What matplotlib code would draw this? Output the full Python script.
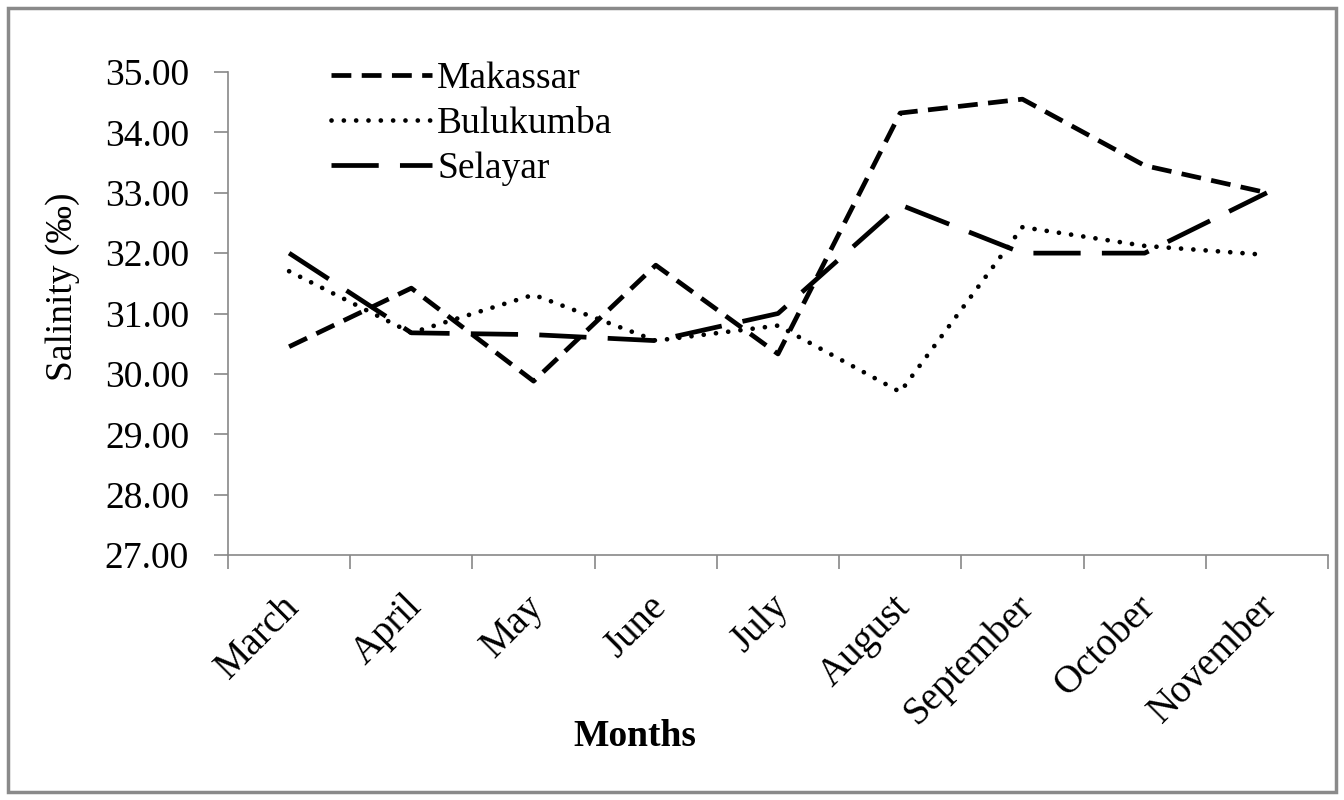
import matplotlib
matplotlib.use("Agg")
import matplotlib.pyplot as plt
from matplotlib.patches import Rectangle
from matplotlib.transforms import ScaledTranslation

months = ["March", "April", "May", "June", "July", "August", "September", "October", "November"]
makassar = [30.45, 31.42, 29.88, 31.80, 30.33, 34.32, 34.55, 33.45, 33.00]
bulukumba = [31.70, 30.68, 31.31, 30.55, 30.80, 29.70, 32.43, 32.12, 31.97]
selayar = [32.00, 30.68, 30.65, 30.55, 31.00, 32.80, 32.00, 32.00, 33.00]
yticks = [27, 28, 29, 30, 31, 32, 33, 34, 35]

plt.rcParams['font.family'] = ['Liberation Serif', 'DejaVu Serif']

fig = plt.figure(figsize=(13.44, 8.0), dpi=100)
ax = fig.add_axes([228/1344, 1-555/800, 1100/1344, 483/800])

x = list(range(len(months)))
lw = 3.4
l1, = ax.plot(x, makassar, color='black', lw=lw, dashes=(4.2, 2.2), dash_capstyle='butt', label='Makassar')
l2, = ax.plot(x, bulukumba, color='black', lw=lw, dashes=(0.01, 2.6), dash_capstyle='round', label='Bulukumba')
l3, = ax.plot(x, selayar, color='black', lw=lw, dashes=(10, 4.5), dash_capstyle='butt', label='Selayar')

ax.set_xlim(-0.5, len(months)-0.5)
ax.set_ylim(27, 35)
ax.set_yticks(yticks)
ax.set_yticklabels([f"{v:.2f}" for v in yticks], fontsize=27)
ax.set_xticks(x)
ax.set_xticklabels(months, fontsize=28, rotation=45, ha='right', rotation_mode='anchor')
ax.set_xticks([i - 0.5 for i in range(len(months)+1)], minor=True)
ax.tick_params(axis='x', which='major', length=0, pad=24)
ax.tick_params(axis='x', which='minor', length=10, color='#888888', width=1.2)
ax.tick_params(axis='y', length=10, color='#888888', width=1.2, pad=18)
off = ScaledTranslation(-6/72, 0, fig.dpi_scale_trans)
for lab in ax.get_xticklabels():
    lab.set_transform(lab.get_transform() + off)

for s in ['top', 'right']:
    ax.spines[s].set_visible(False)
for s in ['left', 'bottom']:
    ax.spines[s].set_color('#888888')
    ax.spines[s].set_linewidth(1.2)

ax.set_ylabel("Salinity (‰)", fontsize=27)
ax.yaxis.set_label_coords(-0.135, 0.555)
fig.text(635/1344, 1-737/800, "Months", fontsize=27, fontweight='bold', ha='center', va='center')

leg = ax.legend(handles=[l1, l2, l3], loc='upper left', bbox_to_anchor=(0.08, 1.052),
                frameon=False, fontsize=27, handlelength=2.7, handletextpad=0.13,
                labelspacing=0.28, borderaxespad=0)

fig.patches.append(Rectangle((8/1344, 8/800), 1328/1344, 784/800, transform=fig.transFigure,
                             fill=False, edgecolor='#8a8a8a', linewidth=2.5))

fig.savefig("out.png", dpi=100)
